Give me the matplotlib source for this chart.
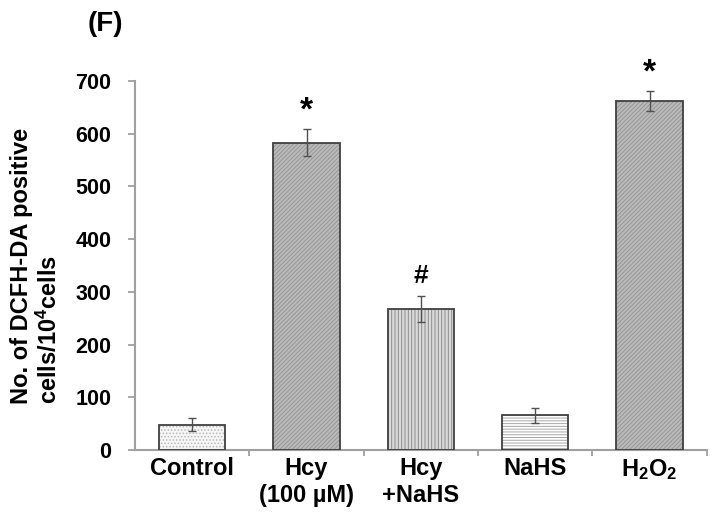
import matplotlib
matplotlib.use('Agg')
import matplotlib.pyplot as plt
import numpy as np

plt.rcParams['font.family'] = 'Liberation Sans'
plt.rcParams['font.weight'] = 'bold'
plt.rcParams['mathtext.fontset'] = 'custom'
plt.rcParams['mathtext.rm'] = 'Liberation Sans:bold'
plt.rcParams['mathtext.bf'] = 'Liberation Sans:bold'
plt.rcParams['mathtext.it'] = 'Liberation Sans:bold'
plt.rcParams['hatch.linewidth'] = 0.7

# data
groups = ['Control', 'Hcy\n(100 µM)', 'Hcy\n+NaHS', 'NaHS', r'H$_2$O$_2$']
means = [48, 583, 268, 66, 662]
errs = [12, 26, 25, 14, 19]
marks = ['', '*', '#', '', '*']

# fill styles for each bar (face, hatch, hatch colour)
faces = ['#f6f6f6', '#bababa', '#dadada', '#ffffff', '#bababa']
hatches = ['.....', '////////', '|||||', '------', '////////']
hatch_cols = ['#b8b8b8', '#979797', '#8c8c8c', '#a8a8a8', '#979797']

fig = plt.figure(figsize=(7.14, 5.17), dpi=100)
ax = fig.add_axes([0.189, 0.1296, 0.801, 0.7137])

x = np.arange(len(groups))
# hatch layer, then outline on top
ax.bar(x, means, width=0.58, color=faces, hatch=hatches, edgecolor=hatch_cols, linewidth=0, zorder=2)
ax.bar(x, means, width=0.58, fill=False, edgecolor='#404040', linewidth=1.3, zorder=3)
ax.errorbar(x, means, yerr=errs, fmt='none', ecolor='#505050', elinewidth=1, capsize=3, capthick=1, zorder=4)

for i in range(len(groups)):
    if marks[i]:
        sz = 24 if marks[i] == '*' else 19
        off = 4 if marks[i] == '*' else 14
        ax.text(x[i], means[i] + errs[i] + off, marks[i], ha='center', va='bottom',
                fontsize=sz, fontweight='bold')

ax.set_xlim(-0.5, len(groups) - 0.5)
ax.set_ylim(0, 700)
ax.set_yticks(range(0, 701, 100))
ax.tick_params(axis='y', labelsize=15.5, length=5, width=1.3, color='#a0a0a0', direction='out', pad=12)
ax.set_xticks(x)
ax.set_xticklabels(groups, linespacing=1.25)
ax.tick_params(axis='x', labelsize=17, length=0, pad=5)
ax.set_xticks(np.arange(0.5, len(groups), 1), minor=True)
ax.tick_params(axis='x', which='minor', length=4, width=1.3, color='#a0a0a0', direction='out')

for s in ['top', 'right']:
    ax.spines[s].set_visible(False)
for s in ['left', 'bottom']:
    ax.spines[s].set_color('#a0a0a0')
    ax.spines[s].set_linewidth(1.5)

ax.set_ylabel('No. of DCFH-DA positive\ncells/10$^4$cells', fontsize=17, fontweight='bold',
              labelpad=10, linespacing=1.15, multialignment='left')
fig.text(0.123, 0.94, '(F)', fontsize=20, fontweight='bold')

fig.savefig('out.png', dpi=100)
